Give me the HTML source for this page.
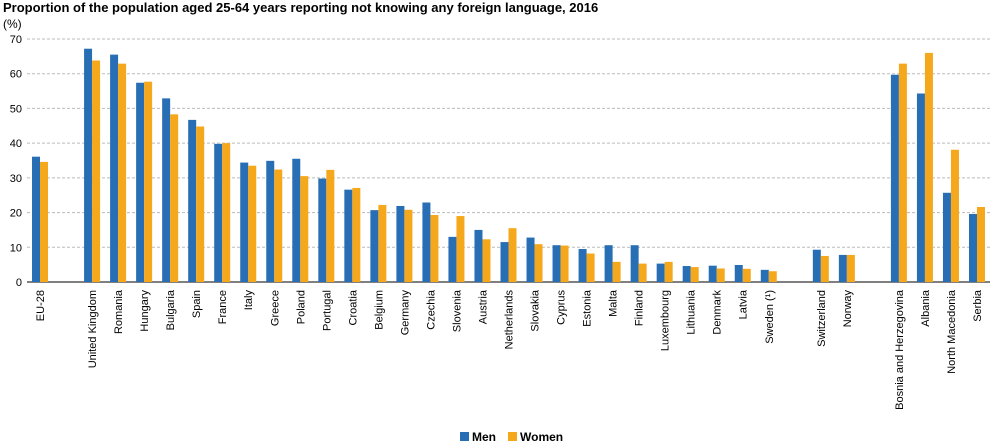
<!DOCTYPE html>
<html><head><meta charset="utf-8"><style>
body{margin:0;background:#fff;font-family:"Liberation Sans",Arial,sans-serif}
svg text{font-family:"Liberation Sans",Arial,sans-serif}
</style></head><body>
<svg id="chart" width="993" height="443">
<text x="3" y="12" font-size="13" font-weight="bold" fill="#000">Proportion of the population aged 25-64 years reporting not knowing any foreign language, 2016</text>
<text x="3" y="28" font-size="12" fill="#000">(%)</text>
<g id="grid"></g><g id="bars"></g><g id="labels"></g>
<g>
<rect x="460" y="432" width="9" height="9" fill="#286eb4"></rect>
<text x="472" y="441" font-size="12" font-weight="bold">Men</text>
<rect x="508" y="432" width="9" height="9" fill="#f5a81c"></rect>
<text x="520" y="441" font-size="12" font-weight="bold">Women</text>
</g>
</svg>
<script>
const categories=["EU-28","","United Kingdom","Romania","Hungary","Bulgaria","Spain","France","Italy","Greece","Poland","Portugal","Croatia","Belgium","Germany","Czechia","Slovenia","Austria","Netherlands","Slovakia","Cyprus","Estonia","Malta","Finland","Luxembourg","Lithuania","Denmark","Latvia","Sweden (¹)","","Switzerland","Norway","","Bosnia and Herzegovina","Albania","North Macedonia","Serbia"];
const men=[36.1,null,67.2,65.5,57.4,52.9,46.7,39.8,34.4,34.9,35.5,29.8,26.6,20.7,21.9,22.9,13.0,15.0,11.5,12.8,10.6,9.5,10.6,10.6,5.3,4.6,4.7,4.9,3.5,null,9.3,7.8,null,59.7,54.3,25.7,19.6];
const women=[34.6,null,63.8,62.9,57.7,48.3,44.8,40.0,33.5,32.4,30.5,32.3,27.1,22.2,20.8,19.3,19.0,12.3,15.5,10.9,10.5,8.2,5.8,5.3,5.8,4.3,3.9,3.8,3.1,null,7.5,7.8,null,62.9,66.0,38.1,21.6];
const yTicks=[0,10,20,30,40,50,60,70];
const ns="http://www.w3.org/2000/svg";
const X0=27,X1=990,Y0=282,Y70=39;
const slot=(X1-X0)/categories.length;
const y=v=>Y0-(v/70)*(Y0-Y70);
const xc=i=>X0+slot*(i+0.5);
function mk(t,a,p){const e=document.createElementNS(ns,t);for(const k in a)e.setAttribute(k,a[k]);p.appendChild(e);return e;}
const grid=document.getElementById('grid'),bars=document.getElementById('bars'),labels=document.getElementById('labels');
yTicks.forEach(t=>{
 const l=mk('line',{x1:X0,x2:X1,y1:y(t),y2:y(t),stroke:t===0?'#000':'#bbb','stroke-dasharray':t===0?'':'3,2','stroke-width':1},grid);
 
 
 const tx=mk('text',{x:22,y:y(t)+4,'font-size':11,'text-anchor':'end'},grid);
 tx.textContent=t;
 
 
});
const bw=8;
categories.forEach((c,i)=>{
 if(men[i]!=null){
  const r=mk('rect',{x:xc(i)-bw,y:y(men[i]),width:bw,height:Y0-y(men[i]),fill:'#286eb4'},bars);
  
  
 }
 if(women[i]!=null){
  const r=mk('rect',{x:xc(i),y:y(women[i]),width:bw,height:Y0-y(women[i]),fill:'#f5a81c'},bars);
  
  
 }
 if(c){
  const t=mk('text',{'font-size':11,'text-anchor':'end',transform:`translate(${xc(i)+4},290) rotate(-90)`},labels);
  t.textContent=c;
  
  
 }
});
</script>
</body></html>
